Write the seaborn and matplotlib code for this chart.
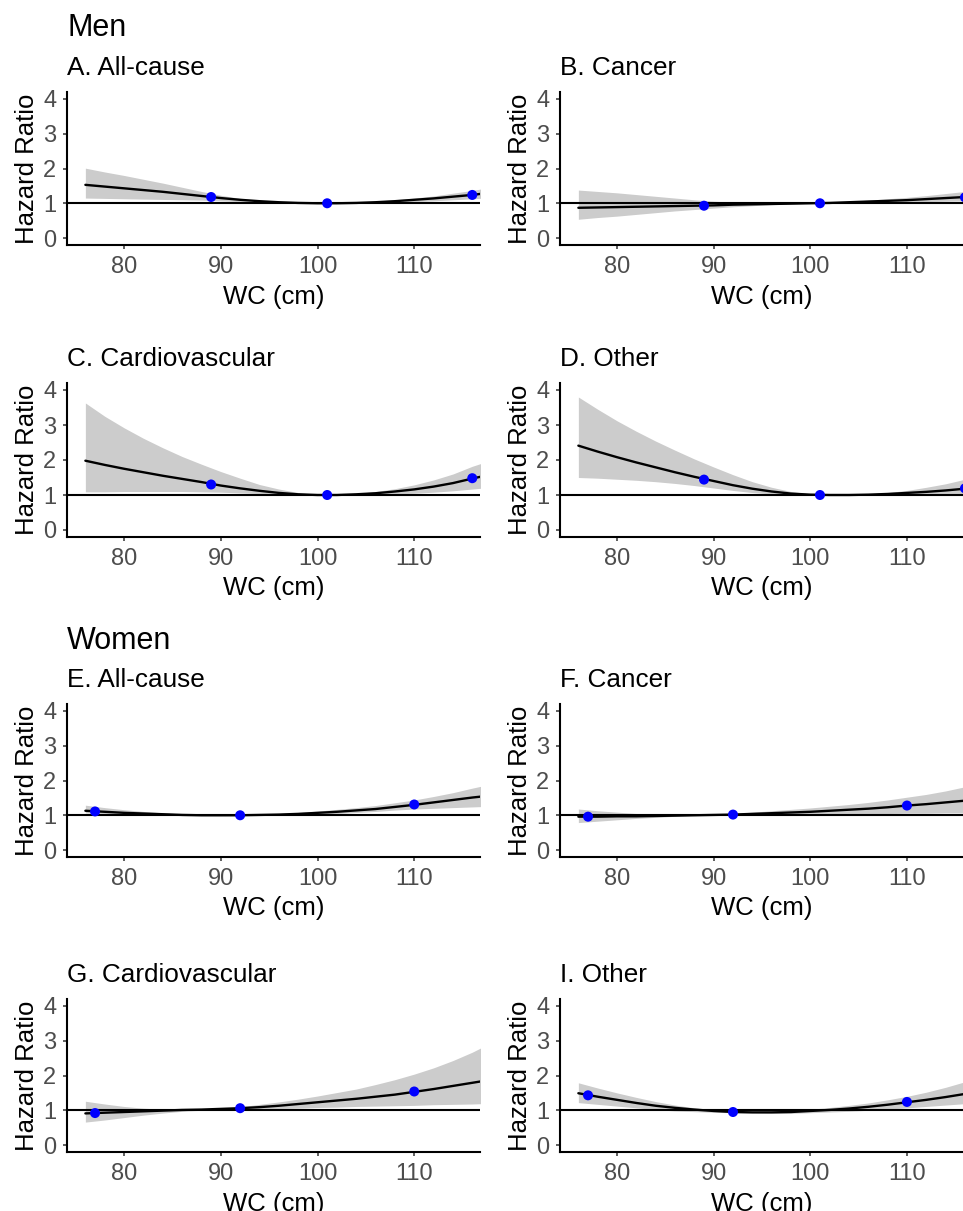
import pandas as pd
import matplotlib
matplotlib.use('Agg')
import matplotlib.pyplot as plt
import seaborn as sns

wc = [76, 78, 80, 82, 84, 86, 88, 90, 92, 94, 96, 98, 100,
      102, 104, 106, 108, 110, 112, 114, 116, 118]

# Men
a_hr = [1.53, 1.48, 1.43, 1.38, 1.33, 1.27, 1.21, 1.15, 1.10, 1.06, 1.03, 1.01, 1.00,
        1.00, 1.01, 1.03, 1.06, 1.10, 1.14, 1.19, 1.24, 1.31]
a_lo = [1.15, 1.14, 1.13, 1.12, 1.11, 1.10, 1.09, 1.07, 1.05, 1.03, 1.01, 1.00, 1.00,
        1.00, 1.00, 1.01, 1.02, 1.05, 1.07, 1.10, 1.13, 1.16]
a_hi = [2.01, 1.90, 1.80, 1.69, 1.58, 1.46, 1.34, 1.23, 1.14, 1.08, 1.04, 1.01, 1.00,
        1.01, 1.03, 1.06, 1.10, 1.15, 1.21, 1.29, 1.37, 1.46]

b_hr = [0.87, 0.88, 0.89, 0.90, 0.91, 0.92, 0.93, 0.94, 0.96, 0.97, 0.98, 0.99, 1.00,
        1.01, 1.03, 1.05, 1.07, 1.09, 1.12, 1.15, 1.18, 1.21]
b_lo = [0.54, 0.59, 0.63, 0.68, 0.73, 0.78, 0.82, 0.86, 0.90, 0.93, 0.96, 0.98, 1.00,
        1.00, 1.01, 1.02, 1.03, 1.04, 1.05, 1.06, 1.07, 1.08]
b_hi = [1.38, 1.34, 1.30, 1.25, 1.20, 1.15, 1.10, 1.06, 1.03, 1.01, 1.00, 1.00, 1.00,
        1.02, 1.05, 1.09, 1.13, 1.17, 1.22, 1.28, 1.34, 1.40]

c_hr = [1.98, 1.86, 1.75, 1.65, 1.55, 1.46, 1.37, 1.27, 1.19, 1.12, 1.06, 1.02, 1.00,
        1.00, 1.02, 1.05, 1.10, 1.16, 1.24, 1.34, 1.47, 1.59]
c_lo = [1.09, 1.09, 1.10, 1.10, 1.10, 1.10, 1.09, 1.08, 1.06, 1.04, 1.02, 1.01, 1.00,
        1.00, 1.00, 1.01, 1.03, 1.05, 1.08, 1.12, 1.17, 1.22]
c_hi = [3.63, 3.25, 2.92, 2.62, 2.35, 2.10, 1.88, 1.67, 1.48, 1.30, 1.17, 1.07, 1.01,
        1.01, 1.04, 1.10, 1.18, 1.29, 1.43, 1.60, 1.82, 2.00]

d_hr = [2.41, 2.24, 2.08, 1.93, 1.79, 1.65, 1.52, 1.40, 1.28, 1.18, 1.10, 1.04, 1.01,
        1.00, 1.00, 1.01, 1.03, 1.06, 1.09, 1.13, 1.18, 1.22]
d_lo = [1.50, 1.48, 1.45, 1.42, 1.38, 1.33, 1.27, 1.20, 1.13, 1.07, 1.03, 1.01, 1.00,
        1.00, 0.99, 0.99, 0.99, 0.99, 0.99, 0.99, 0.99, 0.99]
d_hi = [3.80, 3.45, 3.12, 2.82, 2.54, 2.28, 2.03, 1.80, 1.58, 1.38, 1.22, 1.10, 1.03,
        1.01, 1.01, 1.03, 1.07, 1.13, 1.22, 1.32, 1.45, 1.55]

# Women
e_hr = [1.13, 1.10, 1.07, 1.05, 1.03, 1.01, 1.00, 1.00, 1.00, 1.01, 1.02, 1.04, 1.07,
        1.10, 1.14, 1.18, 1.24, 1.30, 1.37, 1.44, 1.51, 1.57]
e_lo = [1.07, 1.05, 1.03, 1.01, 1.00, 0.99, 0.99, 0.99, 1.00, 1.00, 1.00, 1.01, 1.03,
        1.05, 1.08, 1.11, 1.15, 1.18, 1.20, 1.22, 1.24, 1.26]
e_hi = [1.29, 1.22, 1.16, 1.11, 1.07, 1.04, 1.02, 1.01, 1.00, 1.02, 1.05, 1.08, 1.12,
        1.17, 1.22, 1.28, 1.36, 1.44, 1.54, 1.65, 1.78, 1.90]

f_hr = [0.96, 0.96, 0.97, 0.97, 0.98, 0.99, 1.00, 1.01, 1.02, 1.04, 1.06, 1.08, 1.10,
        1.13, 1.16, 1.19, 1.23, 1.28, 1.32, 1.37, 1.42, 1.47]
f_lo = [0.79, 0.83, 0.87, 0.91, 0.94, 0.97, 1.00, 1.00, 1.00, 1.01, 1.01, 1.02, 1.02,
        1.03, 1.04, 1.05, 1.05, 1.06, 1.06, 1.07, 1.07, 1.08]
f_hi = [1.18, 1.13, 1.09, 1.05, 1.03, 1.01, 1.00, 1.02, 1.05, 1.09, 1.13, 1.17, 1.21,
        1.26, 1.31, 1.37, 1.44, 1.52, 1.60, 1.70, 1.82, 1.95]

g_hr = [0.91, 0.93, 0.95, 0.97, 0.99, 1.01, 1.02, 1.04, 1.06, 1.09, 1.13, 1.18, 1.23,
        1.28, 1.33, 1.39, 1.45, 1.53, 1.61, 1.70, 1.79, 1.88]
g_lo = [0.66, 0.72, 0.79, 0.86, 0.92, 0.97, 1.00, 1.02, 1.03, 1.04, 1.05, 1.06, 1.08,
        1.09, 1.11, 1.12, 1.13, 1.14, 1.16, 1.17, 1.18, 1.20]
g_hi = [1.26, 1.18, 1.11, 1.06, 1.03, 1.02, 1.02, 1.05, 1.10, 1.17, 1.24, 1.32, 1.41,
        1.51, 1.61, 1.74, 1.88, 2.04, 2.22, 2.43, 2.67, 2.95]

i_hr = [1.49, 1.39, 1.30, 1.21, 1.13, 1.07, 1.02, 0.98, 0.95, 0.94, 0.94, 0.95, 0.98,
        1.01, 1.05, 1.10, 1.16, 1.23, 1.30, 1.38, 1.47, 1.55]
i_lo = [1.22, 1.17, 1.12, 1.07, 1.02, 0.98, 0.96, 0.94, 0.93, 0.92, 0.91, 0.91, 0.93,
        0.95, 0.97, 1.00, 1.03, 1.07, 1.11, 1.15, 1.19, 1.22]
i_hi = [1.79, 1.64, 1.50, 1.37, 1.25, 1.15, 1.07, 1.01, 0.98, 0.97, 0.98, 1.00, 1.03,
        1.08, 1.14, 1.21, 1.30, 1.40, 1.52, 1.66, 1.82, 1.98]

# quantile points (blue dots)
men_pt_wc = [89, 101, 116]
women_pt_wc = [77, 92, 110]
a_pt = [1.18, 1.00, 1.24]
b_pt = [0.93, 1.00, 1.17]
c_pt = [1.30, 1.00, 1.48]
d_pt = [1.44, 1.00, 1.19]
e_pt = [1.11, 1.00, 1.31]
f_pt = [0.96, 1.02, 1.28]
g_pt = [0.92, 1.06, 1.54]
i_pt = [1.43, 0.95, 1.24]

titles = ["A. All-cause", "B. Cancer", "C. Cardiovascular", "D. Other",
          "E. All-cause", "F. Cancer", "G. Cardiovascular", "I. Other"]
curves = [(a_hr, a_lo, a_hi), (b_hr, b_lo, b_hi), (c_hr, c_lo, c_hi), (d_hr, d_lo, d_hi),
          (e_hr, e_lo, e_hi), (f_hr, f_lo, f_hi), (g_hr, g_lo, g_hi), (i_hr, i_lo, i_hi)]
points = [a_pt, b_pt, c_pt, d_pt, e_pt, f_pt, g_pt, i_pt]

sns.set_theme(style='ticks', rc={'text.color': 'black', 'axes.labelcolor': 'black'})
plt.rcParams['font.family'] = ['Liberation Sans', 'DejaVu Sans']

W, H = 963, 1211
fig = plt.figure(figsize=(W / 100, H / 100), dpi=100)

rows = [(92, 245), (383, 537), (704, 857), (999, 1152)]
cols = [(67, 480, 74.1, 116.8), (560, 963, 74.1, 115.8)]

for k in range(8):
    top, bottom = rows[k // 2]
    x0, x1, xmin, xmax = cols[k % 2]
    ax = fig.add_axes([x0 / W, 1 - bottom / H, (x1 - x0) / W, (bottom - top) / H])
    hr, lo, hi = curves[k]
    df = pd.DataFrame({'wc': wc, 'hr': hr, 'lo': lo, 'hi': hi})
    pts = pd.DataFrame({'wc': men_pt_wc if k < 4 else women_pt_wc, 'hr': points[k]})

    ax.fill_between(df['wc'], df['lo'], df['hi'], color='#cccccc', lw=0)
    ax.axhline(1, color='black', lw=1.5)
    sns.lineplot(data=df, x='wc', y='hr', ax=ax, color='black', lw=1.7)
    sns.scatterplot(data=pts, x='wc', y='hr', ax=ax, color='#0000ff', s=52,
                    edgecolor='none', zorder=5)

    ax.set_xlim(xmin, xmax)
    ax.set_ylim(-0.2, 4.2)
    ax.set_xticks([80, 90, 100, 110])
    ax.set_yticks([0, 1, 2, 3, 4])
    sns.despine(ax=ax)
    for s in ['left', 'bottom']:
        ax.spines[s].set_linewidth(1.5)
        ax.spines[s].set_color('black')
    ax.tick_params(labelsize=17, labelcolor='#4d4d4d', color='#333333',
                   length=3.1, width=1.1)
    ax.tick_params(axis='x', pad=4.5)
    ax.tick_params(axis='y', pad=4.5)
    ax.set_xlabel('WC (cm)', fontsize=18.5, labelpad=5)
    ax.set_ylabel('Hazard Ratio', fontsize=18.5, labelpad=3)
    ax.set_title(titles[k], loc='left', fontsize=18.8, pad=12)

fig.text(67 / W, 1 - 36 / H, 'Men', fontsize=22, va='baseline')
fig.text(67 / W, 1 - 649 / H, 'Women', fontsize=22, va='baseline')

fig.savefig('out.png', dpi=100)
